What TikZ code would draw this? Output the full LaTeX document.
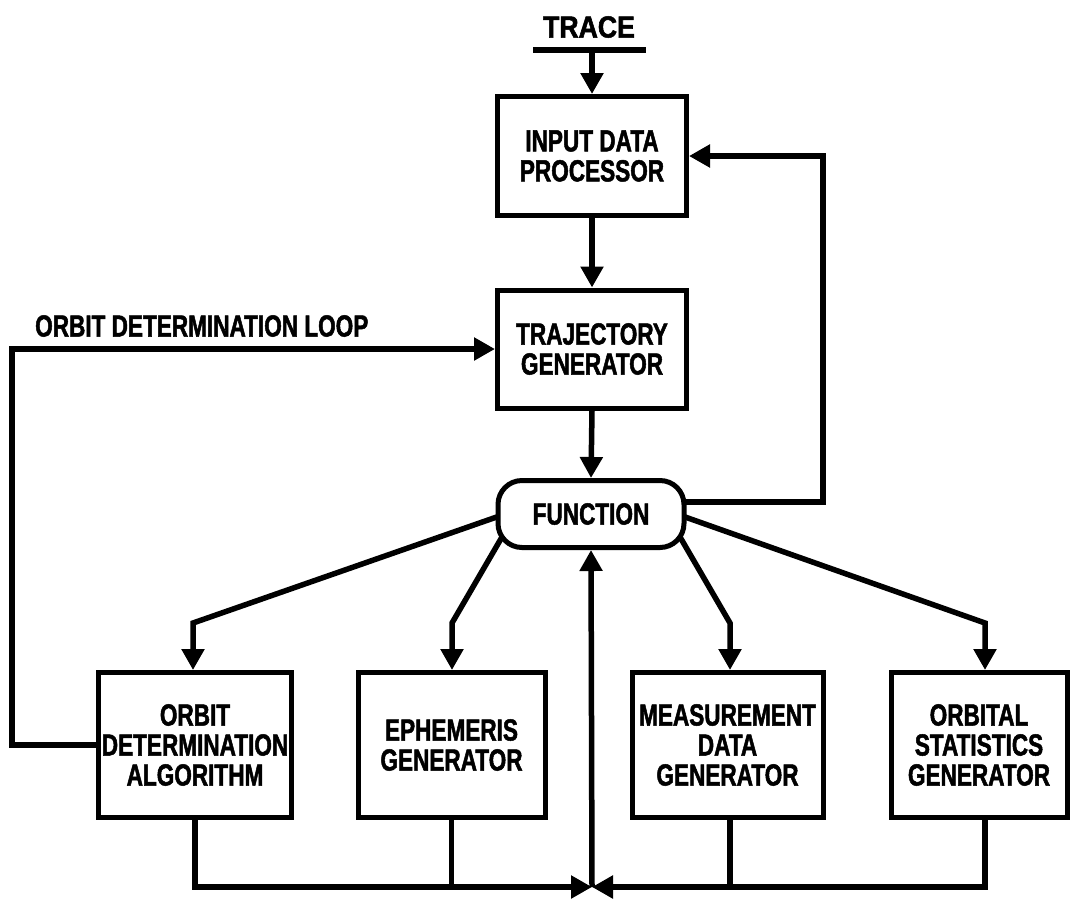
\documentclass[tikz,border=0pt]{standalone}
\usepackage{fontspec}
\setmainfont{Liberation Sans}[FakeStretch=0.74, BoldFeatures={FakeBold=1.6}]
\usetikzlibrary{arrows.meta,calc}
\pgfdeclarelayer{wires}
\pgfsetlayers{wires,main}

\begin{document}
\begin{tikzpicture}[x=1pt,y=-1pt,
  every node/.style={font=\fontsize{30.5}{30}\selectfont\bfseries},
  box/.style={draw, line width=5pt, fill=white, inner sep=0pt, align=center},
  fnbox/.style={box, rounded corners=24pt},
  wire/.style={line width=5.5pt},
  flow/.style={wire, -{Triangle[length=21pt,width=22pt]}}]

\useasboundingbox (0,0) rectangle (1070,898);

% blocks
\node[box, minimum width=189pt, minimum height=119pt] (idp) at (592,156) {INPUT DATA\\PROCESSOR};
\node[box, minimum width=189pt, minimum height=118pt] (tg) at (592,349) {TRAJECTORY\\GENERATOR};
\node[fnbox, minimum width=186pt, minimum height=67pt] (fn) at (591,514) {FUNCTION};

\node[box, minimum width=193pt, minimum height=145pt] (oda) at (195,745) {ORBIT\\DETERMINATION\\ALGORITHM};
\node[box, minimum width=187pt, minimum height=145pt] (eg) at (451.5,745) {EPHEMERIS\\GENERATOR};
\node[box, minimum width=191pt, minimum height=145pt] (mdg) at (727.5,745) {MEASUREMENT\\DATA\\GENERATOR};
\node[box, minimum width=176pt, minimum height=145pt] (osg) at (979,745) {ORBITAL\\STATISTICS\\GENERATOR};

% labels
\node (trace) at (589,27) {\scalebox{1.18}[1]{TRACE}};
\node[anchor=west, inner sep=0pt] (loop) at (35,326) {ORBIT DETERMINATION LOOP};

% routing points
\coordinate (tr) at (592,50);
\coordinate (fb) at (823,502);
\coordinate (lp) at (12,745);
\coordinate (b1) at (193,623);
\coordinate (b2) at (452,623);
\coordinate (b3) at (730,623);
\coordinate (b4) at (985,623);
\coordinate (hub) at (592,887);

\begin{pgfonlayer}{wires}
  % input chain
  \draw[wire] ($(tr)+(-59,0)$) -- ($(tr)+(54,0)$);
  \draw[flow] (tr) -- (idp.north);
  \draw[flow] (idp.south) -- (tg.north);
  \draw[flow] (tg.south) -- (fn.north);

  % feedback to the input processor
  \draw[flow] ($(fn.east)+(-10,-12)$) -- (fb) |- (idp.east);

  % orbit determination loop
  \draw[flow] (oda.west) -- (lp) |- (tg.west);

  % fan-out from the function block
  \draw[flow] ($(fn.center)+(-80,-2)$) -- (b1) -- (b1 |- oda.north);
  \draw[flow] ($(fn.center)+(-71,-8)$) -- (b2) -- (b2 |- eg.north);
  \draw[flow] ($(fn.center)+(71,-8)$) -- (b3) -- (b3 |- mdg.north);
  \draw[flow] ($(fn.center)+(80,-2)$) -- (b4) -- (b4 |- osg.north);

  % return bus
  \draw[flow] (oda.south) |- (hub);
  \draw[flow] (b4 |- osg.south) |- (hub);
  \draw[wire] (eg.south) -- (eg.south |- hub);
  \draw[wire] (b3 |- mdg.south) -- (b3 |- hub);
  \draw[flow] (hub) -- (fn.south);
\end{pgfonlayer}
\end{tikzpicture}
\end{document}
